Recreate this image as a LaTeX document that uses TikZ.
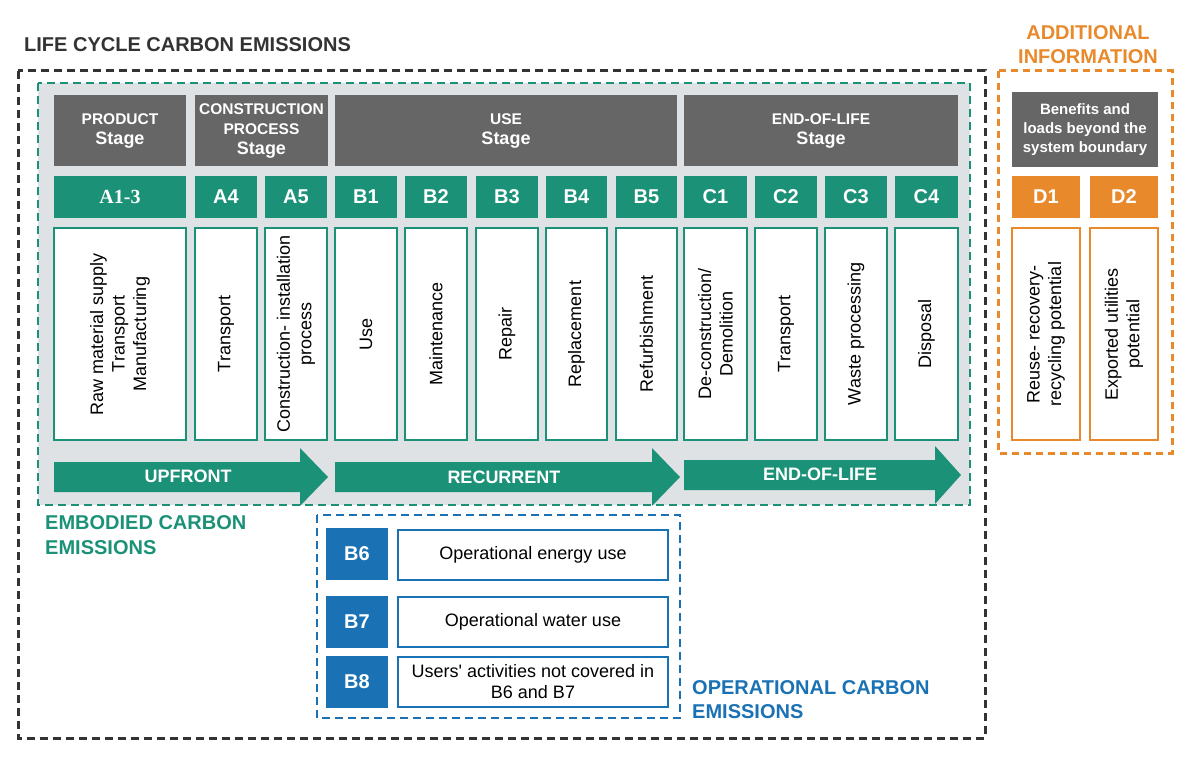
\documentclass[tikz,border=0pt]{standalone}
\usepackage{fontspec}
\setmainfont{Liberation Sans}
\newfontfamily\codeserif{Liberation Serif}
\definecolor{ecgreen}{HTML}{1B9178}
\definecolor{adorange}{HTML}{E8892B}
\definecolor{opblue}{HTML}{1A72B4}
\definecolor{hdrgray}{HTML}{666666}
\definecolor{panel}{HTML}{DEE2E5}
\definecolor{ink}{HTML}{333333}
\newcommand\stg{\fontsize{18}{20}\selectfont Stage}
\newcommand\lcarrow[4]{\fill[ecgreen] (#1,#4-15) -- (#2,#4-15) -- (#2,#4-29) -- (#3,#4) -- (#2,#4+29) -- (#2,#4+15) -- (#1,#4+15) -- cycle;}
\begin{document}
\begin{tikzpicture}[x=1pt,y=-1pt,
    hdr/.style={fill=hdrgray,text=white,align=center,inner sep=0,font=\bfseries\fontsize{15.5}{20}\selectfont},
    code/.style={fill=ecgreen,text=white,inner sep=0,minimum height=42,font=\bfseries\fontsize{20}{24}\selectfont},
    desc/.style={draw=ecgreen,line width=1.4,fill=white,rotate=90,align=center,inner sep=0,minimum width=212,font=\fontsize{18}{21.5}\selectfont},
    opcode/.style={fill=opblue,text=white,inner sep=0,minimum width=62,minimum height=52,font=\bfseries\fontsize{20}{24}\selectfont},
    opdesc/.style={draw=opblue,line width=1.4,fill=white,align=center,inner sep=0,minimum width=270,minimum height=50,font=\fontsize{18}{21}\selectfont},
    caption/.style={align=left,inner sep=0,font=\bfseries\fontsize{20}{25}\selectfont},
    arrowlbl/.style={text=white,inner sep=0,font=\bfseries\fontsize{18}{21}\selectfont},
    boundary/.style={line width=3,dash pattern=on 8pt off 5pt}]
  \useasboundingbox (0,0) rectangle (1200,759);
  \draw[boundary,ink] (18,71) rectangle (985,738);
  \draw[boundary,ecgreen,line width=2.5,fill=panel] (38,83) rectangle (970,505);
  \draw[boundary,adorange,dash pattern=on 7pt off 5pt] (998,71) rectangle (1172,453);
  \draw[boundary,opblue,line width=2.5] (317,515) rectangle (680,718);

  \node[caption,anchor=west,text=ink] (lcce) at (24,45) {LIFE CYCLE CARBON EMISSIONS};
  \node[caption,align=center,text=adorange,font=\bfseries\fontsize{20}{24}\selectfont] (addinfo) at (1088,45) {ADDITIONAL\\INFORMATION};
  \node[caption,anchor=west,text=ecgreen] (embodied) at (45,535) {EMBODIED CARBON\\EMISSIONS};
  \node[caption,anchor=west,text=opblue,font=\bfseries\fontsize{20}{24}\selectfont] (operational) at (692,700) {OPERATIONAL CARBON\\EMISSIONS};

  \node[hdr,minimum width=132,minimum height=71] (product) at (120,130.5) {PRODUCT\\\stg};
  \node[hdr,minimum width=133,minimum height=71] (construction) at (261.5,130.5) {CONSTRUCTION\\PROCESS\\\stg};
  \node[hdr,minimum width=342,minimum height=71] (use) at (506,130.5) {USE\\\stg};
  \node[hdr,minimum width=274,minimum height=71] (endoflife) at (821,130.5) {END-OF-LIFE\\\stg};
  \node[hdr,minimum width=146,minimum height=75,font=\bfseries\fontsize{15}{19}\selectfont] (benefits) at (1085,130) {Benefits and\\loads beyond the\\system boundary};

  \foreach \id/\xa/\xb/\lbl/\txt in {
      a13/54/186/{\codeserif A1-3}/{Raw material supply\\Transport\\Manufacturing},
      a4/195/257/A4/Transport,
      a5/265/327/A5/{Construction- installation\\process},
      b1/335/397/B1/Use,
      b2/405/467/B2/Maintenance,
      b3/476/538/B3/Repair,
      b4/546/607/B4/Replacement,
      b5/616/677/B5/Refurbishment,
      c1/684/747/C1/{De-construction/\\Demolition},
      c2/755/817/C2/Transport,
      c3/825/887/C3/Waste processing,
      c4/895/958/C4/Disposal}{
    \node[code,minimum width={\xb-\xa}] (\id-code) at ({(\xa+\xb)/2},197) {\lbl};
    \node[desc,minimum height={\xb-\xa}] (\id-desc) at ({(\xa+\xb)/2},334) {\txt};
  }
  \node[code,fill=adorange,minimum width=68] (d1-code) at (1046,197) {D1};
  \node[code,fill=adorange,minimum width=68] (d2-code) at (1124,197) {D2};
  \node[desc,draw=adorange,minimum height=68] (d1-desc) at (1046,334) {Reuse- recovery-\\recycling potential};
  \node[desc,draw=adorange,minimum height=68] (d2-desc) at (1124,334) {Exported utilities\\potential};

  \lcarrow{54}{300}{328}{477}
  \lcarrow{335}{652}{680}{477}
  \lcarrow{684}{935}{961}{475}
  \node[arrowlbl] (upfront) at (188,476) {UPFRONT};
  \node[arrowlbl] (recurrent) at (504,477) {RECURRENT};
  \node[arrowlbl] (eolarrow) at (820,474) {END-OF-LIFE};

  \node[opcode] (b6-code) at (357,554) {B6};
  \node[opdesc] (b6-desc) at (533,555) {Operational energy use};
  \node[opcode] (b7-code) at (357,622) {B7};
  \node[opdesc] (b7-desc) at (533,622) {Operational water use};
  \node[opcode] (b8-code) at (357,682) {B8};
  \node[opdesc] (b8-desc) at (533,682) {Users\textquotesingle{} activities not covered in\\B6 and B7};
\end{tikzpicture}
\end{document}
